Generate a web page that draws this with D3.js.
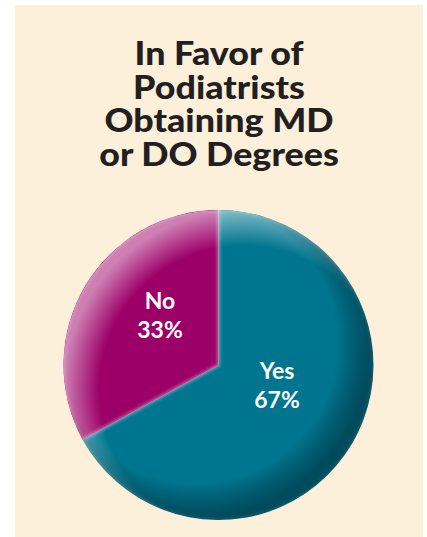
<!DOCTYPE html>
<html>
<head>
<meta charset="utf-8">
<script src="https://cdn.jsdelivr.net/npm/d3@7"></script>
<style>
  html, body { margin: 0; padding: 0; background: #ffffff; }
  svg { display: block; }
</style>
</head>
<body>
<div id="chart"></div>
<script>
// Survey answers
const categories = ["Yes", "No"];
const percents = [67, 33];
const sliceColors = ["#00758f", "#9c0068"];
const titleLines = ["In Favor of", "Podiatrists", "Obtaining MD", "or DO Degrees"];

const W = 427, H = 537;
const svg = d3.select("#chart").append("svg")
  .attr("width", W).attr("height", H);

// cream panel
svg.append("rect")
  .attr("x", 15).attr("y", 5)
  .attr("width", 408).attr("height", H - 5)
  .attr("fill", "#fdf0da");

// title, widened a little for a broad heavy look
const title = svg.append("text")
  .attr("transform", "translate(219,0) scale(1.12,1)")
  .attr("text-anchor", "middle")
  .attr("font-family", "Lato, 'DejaVu Sans', sans-serif")
  .attr("font-weight", 900)
  .attr("font-size", 32)
  .attr("fill", "#231f20");
title.selectAll("tspan").data(titleLines).join("tspan")
  .attr("x", 0)
  .attr("y", (d, i) => 65 + i * 33.7)
  .text(d => d);

// pie
const cx = 218.5, cy = 365, R = 155;
const g = svg.append("g").attr("transform", `translate(${cx},${cy})`);

const data = categories.map((c, i) => ({ name: c, value: percents[i], color: sliceColors[i] }));
const pie = d3.pie().sort(null).value(d => d.value);
const arcs = pie(data);
const arc = d3.arc().innerRadius(0).outerRadius(R);

const defs = svg.append("defs");
defs.append("clipPath").attr("id", "pieClip")
  .append("circle").attr("r", R);

// light rim towards the upper left
const hi = defs.append("radialGradient").attr("id", "rimLight")
  .attr("cx", "0.58").attr("cy", "0.58").attr("r", "0.58")
  .attr("fx", "0.58").attr("fy", "0.58");
hi.append("stop").attr("offset", "0.8").attr("stop-color", "#ffffff").attr("stop-opacity", 0);
hi.append("stop").attr("offset", "1").attr("stop-color", "#ffffff").attr("stop-opacity", 0.5);

// dark rim towards the lower right
const lo = defs.append("radialGradient").attr("id", "rimDark")
  .attr("cx", "0.43").attr("cy", "0.43").attr("r", "0.58")
  .attr("fx", "0.43").attr("fy", "0.43");
lo.append("stop").attr("offset", "0.78").attr("stop-color", "#000000").attr("stop-opacity", 0);
lo.append("stop").attr("offset", "0.97").attr("stop-color", "#001820").attr("stop-opacity", 0.45);

defs.append("filter").attr("id", "soft")
  .append("feGaussianBlur").attr("stdDeviation", 1.6);

g.selectAll("path.slice").data(arcs).join("path")
  .attr("class", "slice")
  .attr("d", arc)
  .attr("fill", d => d.data.color);

const shade = g.append("g").attr("clip-path", "url(#pieClip)");
// soft bevel along the slice edges
shade.selectAll("path.edge").data(arcs).join("path")
  .attr("class", "edge")
  .attr("d", arc)
  .attr("fill", "none")
  .attr("stroke", "#ffffff")
  .attr("stroke-opacity", 0.2)
  .attr("stroke-width", 3)
  .attr("filter", "url(#soft)");
shade.append("circle").attr("r", R).attr("fill", "url(#rimLight)");
shade.append("circle").attr("r", R).attr("fill", "url(#rimDark)");

// labels
const labelArc = d3.arc().innerRadius(68).outerRadius(68);
const labels = g.selectAll("text.lbl").data(arcs).join("text")
  .attr("class", "lbl")
  .attr("text-anchor", "middle")
  .attr("font-family", "Lato, 'DejaVu Sans', sans-serif")
  .attr("font-weight", 700)
  .attr("font-size", 23)
  .attr("fill", "#ffffff")
  .attr("transform", d => {
    const [x, y] = labelArc.centroid(d);
    return `translate(${x},${y})`;
  });
labels.append("tspan").attr("x", 0).attr("y", -21).text(d => d.data.name);
labels.append("tspan").attr("x", 0).attr("y", 8).text(d => d.data.value + "%");
</script>
</body>
</html>
